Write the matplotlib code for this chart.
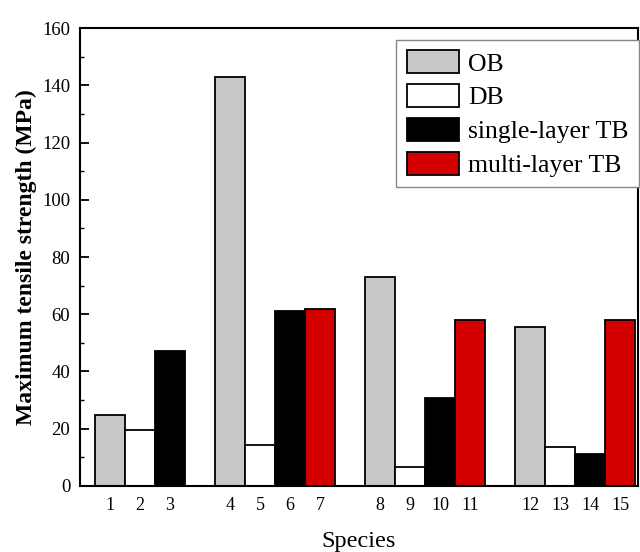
import numpy as np
import matplotlib.pyplot as plt
from matplotlib.patches import Patch

plt.rcParams['font.family'] = ['Liberation Serif', 'DejaVu Serif']

# data
species = [str(i) for i in range(1, 16)]
strength = [24.8, 19.4, 47.2, 142.8, 14.2, 61.2, 62.0, 73.0, 6.6, 30.8, 58.0, 55.5, 13.6, 11.2, 58.0]
bar_type = ['OB', 'DB', 'single-layer TB',
            'OB', 'DB', 'single-layer TB', 'multi-layer TB',
            'OB', 'DB', 'single-layer TB', 'multi-layer TB',
            'OB', 'DB', 'single-layer TB', 'multi-layer TB']
legend_order = ['OB', 'DB', 'single-layer TB', 'multi-layer TB']
colors = {'OB': '#c8c8c8', 'DB': '#ffffff', 'single-layer TB': '#000000', 'multi-layer TB': '#d40000'}

# a new group starts at every OB bar, leave one empty slot between groups
pos = []
group = -1
for i, t in enumerate(bar_type):
    if t == 'OB':
        group += 1
    pos.append(i + 1 + group)
pos = np.array(pos)

fig = plt.figure(figsize=(6.4, 5.52), dpi=100)
ax = fig.add_axes([0.125, 0.1196, 0.872, 0.8296])

ax.bar(pos, strength, width=1.0, color=[colors[t] for t in bar_type],
       edgecolor='black', linewidth=1.3, zorder=2)

ax.set_xlim(0, 18.6)
ax.set_ylim(0, 160)
ax.set_xticks(pos)
ax.set_xticklabels(species, fontsize=13)
ax.set_yticks(np.arange(0, 161, 20))
ax.set_yticks(np.arange(10, 160, 20), minor=True)
ax.tick_params(axis='y', which='major', direction='in', length=6.5, width=1.3, labelsize=13.5, pad=7)
ax.tick_params(axis='y', which='minor', direction='in', length=3, width=1.0)
ax.tick_params(axis='x', length=0, pad=8)

for s in ax.spines.values():
    s.set_linewidth(1.5)

ax.set_xlabel('Species', fontsize=17.5, labelpad=12)
ax.set_ylabel('Maximum tensile strength (MPa)', fontsize=17, fontweight='bold', labelpad=4)

handles = [Patch(facecolor=colors[t], edgecolor='black', linewidth=1.3, label=t) for t in legend_order]
leg = ax.legend(handles=handles, loc='upper right', fontsize=18.5, fancybox=False,
                edgecolor='#888888', framealpha=1, handlelength=2.05, handleheight=1.0,
                labelspacing=0.33, handletextpad=0.35, borderpad=0.4, borderaxespad=0,
                bbox_to_anchor=(1.002, 0.974))
leg.get_frame().set_linewidth(1.0)

plt.savefig('out.png', dpi=100)
